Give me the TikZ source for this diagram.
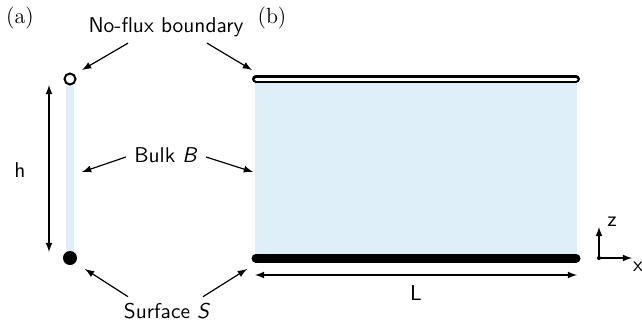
\documentclass[tikz,border=0pt]{standalone}
\usepackage{tikz}
\usetikzlibrary{arrows,positioning,calc}
\definecolor{bulkblue}{RGB}{223,239,249}

\begin{document}
\begin{tikzpicture}[x=0.5pt, y=-0.5pt, font={\fontsize{10.7}{13}\selectfont\sffamily},
    callout/.style={-latex, line width=0.6pt},
    dimline/.style={latex-latex, line width=0.6pt},
    tag/.style={font={\fontsize{11}{13}\selectfont\rmfamily}},
    lbl/.style={inner sep=1pt}]
  \useasboundingbox (0,0) rectangle (642,322);
  % panel tags
  \node[tag] (taga) at (20,18) {(a)};
  \node[tag] (tagb) at (272,18) {(b)};
  % (a) one-dimensional column
  \fill[bulkblue] (66,79) rectangle (74,258);
  \draw[line width=1pt, fill=white] (70,79) circle[radius=5.5];
  \fill (70,258) circle[radius=7];
  \coordinate (htop) at (49,85);
  \coordinate (hbot) at (49,252);
  \draw[dimline] (htop) -- (hbot);
  \node (hlbl) at (20,170) {h};
  % (b) two-dimensional layer
  \fill[bulkblue] (255,79) rectangle (577,258);
  \draw[line width=1.25pt, double=white, double distance=1.5pt, line cap=round]
    (256,79) -- (576,79);
  \draw[line width=4.5pt, line cap=round] (256,258) -- (576,258);
  \coordinate (lleft) at (255,275);
  \coordinate (lright) at (577,275);
  \draw[dimline] (lleft) -- (lright);
  \node (llbl) at (416,293) {L};
  % axes
  \coordinate (orig) at (599,258);
  \coordinate (zend) at (599,227);
  \coordinate (xend) at (632,258);
  \fill (orig) circle[radius=2];
  \draw[callout] (orig) -- (zend);
  \draw[callout] (orig) -- (xend);
  \node (zlbl) at (612,222) {z};
  \node (xlbl) at (638,267) {x};
  % labels and callouts
  \node[lbl] (nofluxlbl) at (166,27) {No-flux boundary};
  \node[lbl] (bulklbl) at (166,155) {Bulk \textit{B}};
  \node[lbl] (surflbl) at (167,311) {Surface \textit{S}};
  \coordinate (nfa) at (82,70);
  \coordinate (nfb) at (252,70);
  \coordinate (bka) at (82,172);
  \coordinate (bkb) at (253,172);
  \coordinate (sfa) at (85,269);
  \coordinate (sfb) at (247,269);
  \draw[callout] ([xshift=-19pt,yshift=-2pt]nofluxlbl.south) -- (nfa);
  \draw[callout] ([xshift=20.5pt,yshift=-2pt]nofluxlbl.south) -- (nfb);
  \draw[callout] ([xshift=-3pt,yshift=-1pt]bulklbl.west) -- (bka);
  \draw[callout] ([xshift=3pt,yshift=-1pt]bulklbl.east) -- (bkb);
  \draw[callout] ([xshift=-19.5pt,yshift=2pt]surflbl.north) -- (sfa);
  \draw[callout] ([xshift=18pt,yshift=2pt]surflbl.north) -- (sfb);
\end{tikzpicture}
\end{document}
